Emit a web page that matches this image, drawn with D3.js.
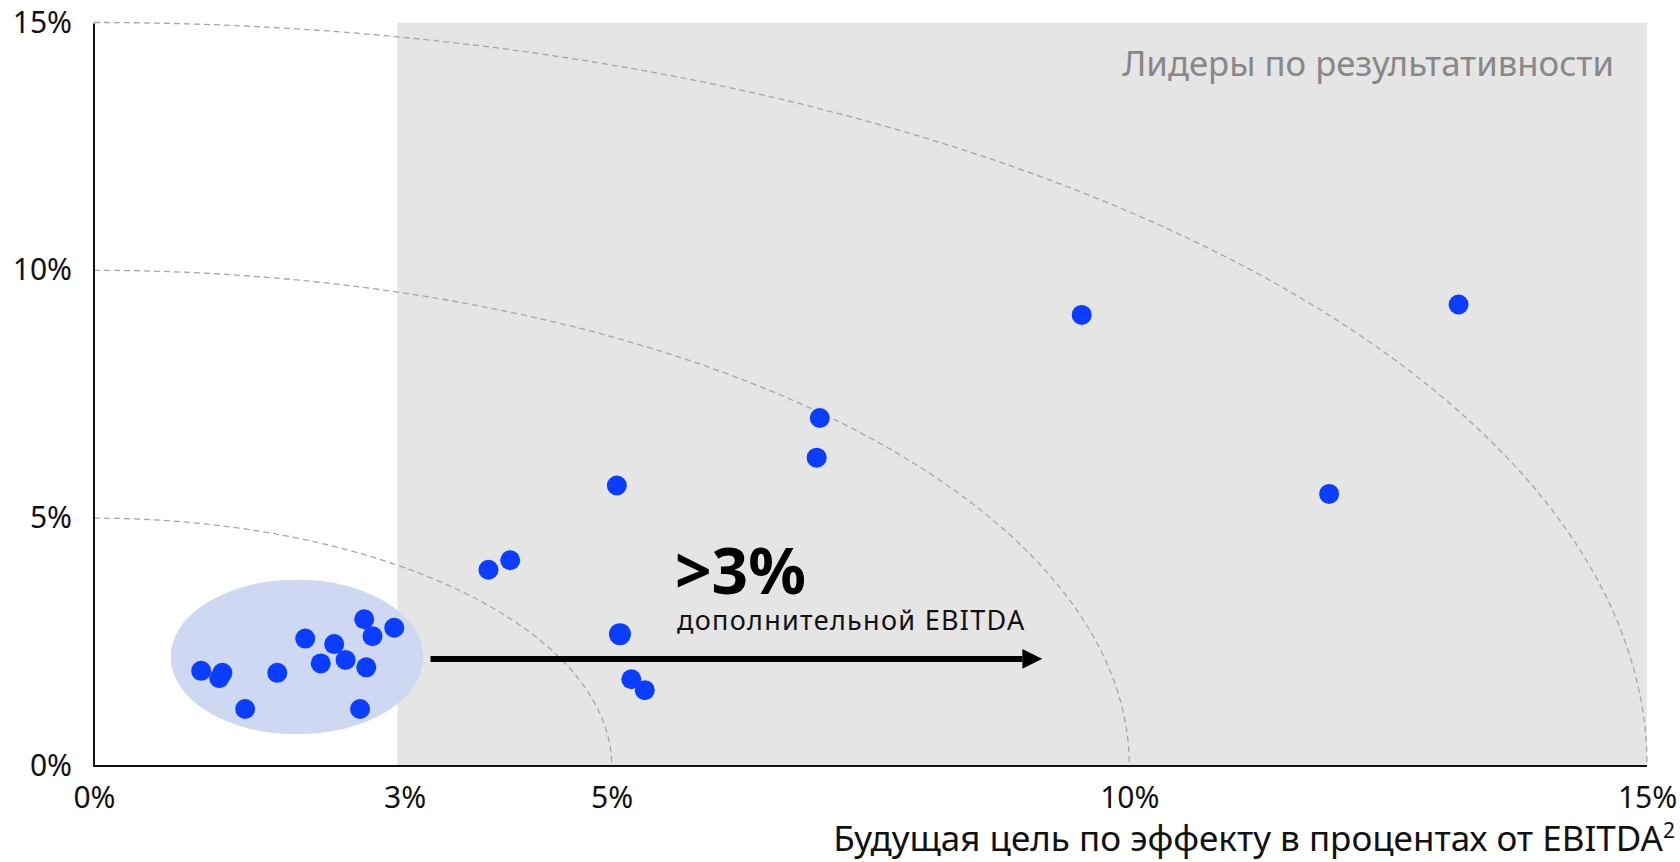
<!DOCTYPE html>
<html><head><meta charset="utf-8">
<script src="https://cdn.jsdelivr.net/npm/d3@7"></script>
<style>
html,body{margin:0;padding:0;background:#fff;}
svg text{font-family:"Noto Sans","Open Sans",sans-serif;}
</style></head>
<body>
<svg id="c" width="1680" height="862"></svg>
<script>
// Data
const xVals = [1.035,1.21,1.24,1.46,1.77,2.04,2.19,2.32,2.43,2.61,2.63,2.69,2.57,2.90,3.81,4.02,5.05,5.08,5.19,5.32,6.98,7.01,9.54,11.93,13.18];
const yVals = [1.92,1.77,1.88,1.15,1.88,2.57,2.07,2.46,2.14,2.96,1.99,2.62,1.15,2.79,3.96,4.15,5.66,2.66,1.75,1.53,6.22,7.02,9.10,5.49,9.31];
const pointSize = [10,10,10,10,10,10,10,10,10,10,10,10,10,10,10,10,10,11,10,10,10,10,10,10,10];
const xTicks = [0,3,5,10,15];
const yTicks = [0,5,10,15];
const arcRadii = [5,10,15];
const leaderStart = 2.93;
const cluster = {cx:1.96, cy:2.2, rx:1.22, ry:1.56};
const arrow = {x0:3.25, x1:9.16, y:2.16};

const svg = d3.select("#c");
const x = d3.scaleLinear().domain([0,15]).range([94,1647]);
const y = d3.scaleLinear().domain([0,15]).range([766,22.5]);

// shaded leaders region
svg.append("rect").attr("x",x(leaderStart)).attr("y",y(15)).attr("width",x(15)-x(leaderStart)).attr("height",y(0)-y(15)).attr("fill","#e5e5e5");

svg.append("text").attr("x",1614).attr("y",76).attr("text-anchor","end").attr("font-size",34.7).attr("fill","#888").text("Лидеры по результативности");

// arcs
arcRadii.forEach(r=>{
  const rx = x(r)-x(0), ry = y(0)-y(r);
  svg.append("path").attr("d",`M${x(0)},${y(r)} A${rx},${ry} 0 0 1 ${x(r)},${y(0)}`)
    .attr("fill","none").attr("stroke","#a6a6a6").attr("stroke-width",1.3).attr("stroke-dasharray","6,4");
});

// cluster ellipse
svg.append("ellipse").attr("cx",x(cluster.cx)).attr("cy",y(cluster.cy))
  .attr("rx",x(cluster.rx)-x(0)).attr("ry",y(0)-y(cluster.ry)).attr("fill","#cfd8f3");

// axes
svg.append("line").attr("x1",x(0)).attr("x2",x(0)).attr("y1",y(15)+1).attr("y2",y(0)).attr("stroke","#111").attr("stroke-width",2);
svg.append("line").attr("x1",x(0)-1).attr("x2",x(15)).attr("y1",y(0)).attr("y2",y(0)).attr("stroke","#111").attr("stroke-width",2);

const xAxis = svg.append("g").attr("transform",`translate(0,${y(0)})`)
  .call(d3.axisBottom(x).tickValues(xTicks).tickSize(0).tickFormat(d=>d+"%"));
xAxis.select(".domain").remove();
xAxis.selectAll("text").attr("font-size",30).attr("fill","#111").attr("y",42).attr("dy",0);

const yAxis = svg.append("g").attr("transform",`translate(72,0)`)
  .call(d3.axisLeft(y).tickValues(yTicks).tickSize(0).tickPadding(0).tickFormat(d=>d+"%"));
yAxis.select(".domain").remove();
yAxis.selectAll("text").attr("font-size",30).attr("fill","#111");

// arrow
svg.append("defs").append("marker").attr("id","ah").attr("viewBox","0 0 10 10").attr("refX",0).attr("refY",5)
  .attr("markerWidth",3.3).attr("markerHeight",3.3).attr("markerUnits","strokeWidth").attr("orient","auto")
  .append("path").attr("d","M0,0 L10,5 L0,10 z").attr("fill","#000");
svg.append("line").attr("x1",x(arrow.x0)).attr("x2",x(arrow.x1)-20).attr("y1",y(arrow.y)).attr("y2",y(arrow.y))
  .attr("stroke","#000").attr("stroke-width",6).attr("marker-end","url(#ah)");

// annotation
svg.append("text").attr("x",675).attr("y",594).attr("font-size",64).attr("font-weight",700).attr("fill","#000").text(">3%");
svg.append("text").attr("x",677).attr("y",630).attr("font-size",27).attr("letter-spacing",1.3).attr("fill","#111").text("дополнительной EBITDA");

// points
svg.append("g").selectAll("circle").data(xVals.map((v,i)=>({x:v,y:yVals[i],r:pointSize[i]}))).join("circle")
  .attr("cx",d=>x(d.x)).attr("cy",d=>y(d.y)).attr("r",d=>d.r).attr("fill","#0a3dff");

// axis title
const t = svg.append("text").attr("x",1675).attr("y",851).attr("text-anchor","end").attr("font-size",35).attr("fill","#111");
t.append("tspan").text("Будущая цель по эффекту в процентах от EBITDA");
t.append("tspan").attr("dy",-13).attr("font-size",21).text("2");
</script>
</body></html>
